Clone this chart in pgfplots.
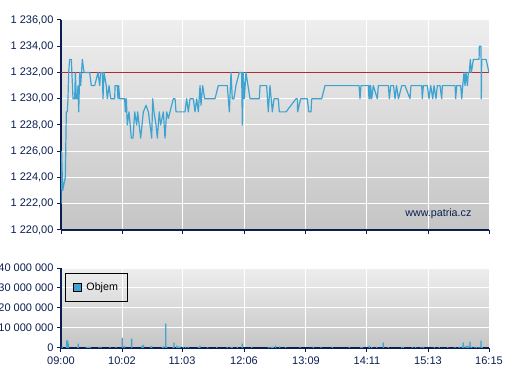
\documentclass[border=0pt]{standalone}
\usepackage{pgfplots}
\pgfplotsset{compat=1.18}
\usepackage{fontspec}
\setmainfont{Liberation Sans}
\definecolor{navy}{RGB}{10,30,80}
\definecolor{lineblue}{RGB}{62,163,209}
\definecolor{refred}{RGB}{175,45,45}
\definecolor{bgtop}{RGB}{238,238,238}
\definecolor{bgbot}{RGB}{197,197,197}
\pgfplotsset{
  chartbase/.style={
    scale only axis,
    width=428bp,
    xmin=0, xmax=435,
    axis x line*=bottom,
    axis y line*=left,
    axis line style={draw=navy, line width=1.2bp, -},
    tick align=outside,
    major tick length=4bp,
    tick style={draw=navy, line width=1bp},
    grid=major,
    grid style={white, line width=1bp},
    axis background/.style={top color=bgtop, bottom color=bgbot},
    ticklabel style={font=\fontsize{11bp}{12bp}\selectfont, text=navy},
    xtick={0,62,123,186,249,311,373,435},
  }
}
\begin{document}
\begin{tikzpicture}
\begin{axis}[chartbase,
  at={(61bp,150bp)}, anchor=south west,
  height=210bp,
  ymin=1220, ymax=1236,
  ytick={1220,1222,1224,1226,1228,1230,1232,1234,1236},
  yticklabels={{1 220,00},{1 222,00},{1 224,00},{1 226,00},{1 228,00},{1 230,00},{1 232,00},{1 234,00},{1 236,00}},
  xticklabels={},
]
\addplot[refred, line width=0.7bp] coordinates {(0,1232) (435,1232)};
\addplot[lineblue, line width=1.2bp, line join=round] coordinates {
(0,1222) (0.6,1226) (1.7,1223) (3,1223.5) (4.4,1224) (5.4,1229) (6.4,1229) (7.1,1230) (7.8,1232) (8.8,1233) (10.5,1233) (12.2,1230) (13.9,1230) (14.6,1232) (15.6,1230) (16.6,1230) (17.3,1231) (18,1229) (19,1232) (20,1231) (21.7,1233) (23.4,1232) (29.1,1232) (30.8,1231) (34.2,1231) (37.6,1232) (39.3,1231) (40.3,1232) (42,1232) (42.7,1230) (43.7,1232) (46,1231) (47.1,1230) (48.8,1231) (50.5,1230) (54.6,1230) (54.9,1231) (57.2,1231) (57.9,1230) (58.6,1231) (59.6,1230) (64.7,1230) (65.4,1229) (66.4,1230) (67.4,1228) (69.1,1229) (71.5,1227) (73.2,1227) (74.9,1229) (76.9,1228) (77.9,1229) (81,1227) (83.7,1229) (86.4,1229.5) (88.8,1229) (90.5,1228) (92.2,1227) (93.2,1230) (94.5,1229) (96.6,1228) (97.9,1227) (99.9,1229) (101.3,1228) (104,1229) (105.7,1227) (107.4,1229) (109.1,1228.5) (110.8,1229) (114.1,1230) (115.9,1230) (116.9,1229) (126,1229) (127.7,1230) (129.4,1229) (131.1,1230) (134.5,1230) (136.2,1229) (137.9,1230) (139.6,1229) (141.3,1231) (142.3,1229.5) (144,1231) (146,1230) (156.5,1230) (159.9,1231) (169,1231) (171.1,1229) (172.8,1232) (174.1,1230) (175.8,1230) (177.8,1231) (181.2,1232) (183.6,1232) (184.3,1228) (185.3,1232) (186.3,1230) (188,1232) (192.1,1230) (201.6,1230) (202.3,1231) (209,1231) (210.7,1229) (212.4,1231) (214.8,1229) (216.5,1230) (220.9,1230) (221.9,1229) (228.7,1229) (238.9,1230) (240.2,1230) (240.5,1229) (243.6,1230) (250.4,1230) (251.8,1229) (254.1,1229) (254.8,1230) (265,1230) (268.3,1231) (302.9,1231) (303.9,1230) (304.9,1231) (312.4,1231) (313,1230) (313.6,1231) (314.1,1230) (314.7,1231) (315.8,1230) (317.4,1231) (321.5,1230) (322.5,1231) (332.7,1231) (333.7,1230) (335.1,1231) (338,1231) (339.5,1230) (341,1231) (343,1230) (346.3,1231) (349.6,1231) (354.7,1230) (355.7,1231) (366.6,1231) (367.2,1230) (368.3,1231) (372.3,1231) (374,1230) (375.8,1231) (377.8,1230) (379.1,1231) (381.1,1230) (382.5,1231) (385.2,1231) (386.9,1230) (387.6,1231) (400.5,1231) (401.1,1230) (402.2,1231) (406.2,1231) (407.3,1230) (408.3,1231) (409.6,1232) (410.6,1231) (411.6,1232) (413,1231) (414,1232) (415,1232) (416,1233) (417.1,1232) (419.1,1233) (424.9,1233) (425.2,1234) (426.9,1234) (427.2,1230) (427.6,1233) (432,1233) (435,1232)
};
\node[anchor=east, text=navy, font=\fontsize{10.7bp}{12bp}\selectfont] at (rel axis cs:0.967,0.076) {www.patria.cz};
\end{axis}
\begin{axis}[chartbase,
  at={(61bp,32bp)}, anchor=south west,
  height=80bp,
  ymin=0, ymax=40,
  ytick={0,10,20,30,40},
  yticklabels={0,{10 000 000},{20 000 000},{30 000 000},{40 000 000}},
  xticklabels={09:00,10:02,11:03,12:06,13:09,14:11,15:13,16:15},
  xticklabel style={yshift=-1.5bp},
  legend style={at={(0.01,0.935)}, anchor=north west, draw=black, line width=0.8bp, fill=none,
    font=\fontsize{10.7bp}{12bp}\selectfont, inner xsep=7bp, inner ysep=7.5bp},
  legend image code/.code={\draw[fill=lineblue, draw=black, line width=0.8bp] (0bp,-4bp) rectangle (8bp,4bp);},
]
\addplot[ybar, bar width=1.3bp, fill=lineblue, draw=none] coordinates {
(1.3,0.8) (5.8,3.8) (6.8,3.7) (7.5,2.2) (17,0.5) (17.6,2.2) (26,0.5) (27,0.5) (28.5,0.5) (30,0.5) (38.6,0.5) (40.7,0.5) (49.8,0.5) (55.9,0.5) (62.3,5) (64.4,1) (71.8,4.7) (82,1) (83.7,1.6) (91.2,0.8) (92.2,1.1) (103,0.5) (104.3,0.8) (106.4,12.2) (107.4,0.7) (113.9,0.5) (114.9,2.7) (117.6,1.2) (119.3,0.7) (121,0.7) (124.3,0.5) (126.7,0.5) (129.4,0.5) (139.6,0.5) (141.3,1.2) (149.1,0.5) (158.2,0.5) (169,0.5) (172.8,0.5) (174.1,0.5) (179.1,0.5) (184.3,2.2) (193.8,0.5) (210.7,0.6) (212.4,0.6) (214.1,0.6) (215.8,0.5) (218.2,1.2) (222.3,0.8) (228.4,0.4) (242.9,0.5) (256.5,0.5) (264.3,0.5) (275.8,0.5) (293.1,0.5) (304.6,0.6) (306.3,0.6) (313.4,1.2) (315.8,0.4) (320.9,0.5) (327.6,2.7) (332.7,0.4) (346.3,0.5) (348,0.5) (357.1,0.5) (360.5,0.5) (365.9,0.5) (368.3,0.5) (379.4,0.5) (384.5,0.5) (393,0.5) (400.5,0.5) (404.9,0.5) (407.9,0.8) (408.9,2.7) (410.6,0.8) (412.3,1.1) (414,1.1) (415.7,3.2) (417.4,0.7) (420.8,0.5) (422.5,0.5) (424.9,0.5) (426.9,3.7) (428.2,0.5)
};
\addlegendentry{\hspace{3bp}Objem}
\end{axis}
\pgfresetboundingbox
\path[use as bounding box] (0,0) rectangle (507bp,380bp);
\end{tikzpicture}
\end{document}
